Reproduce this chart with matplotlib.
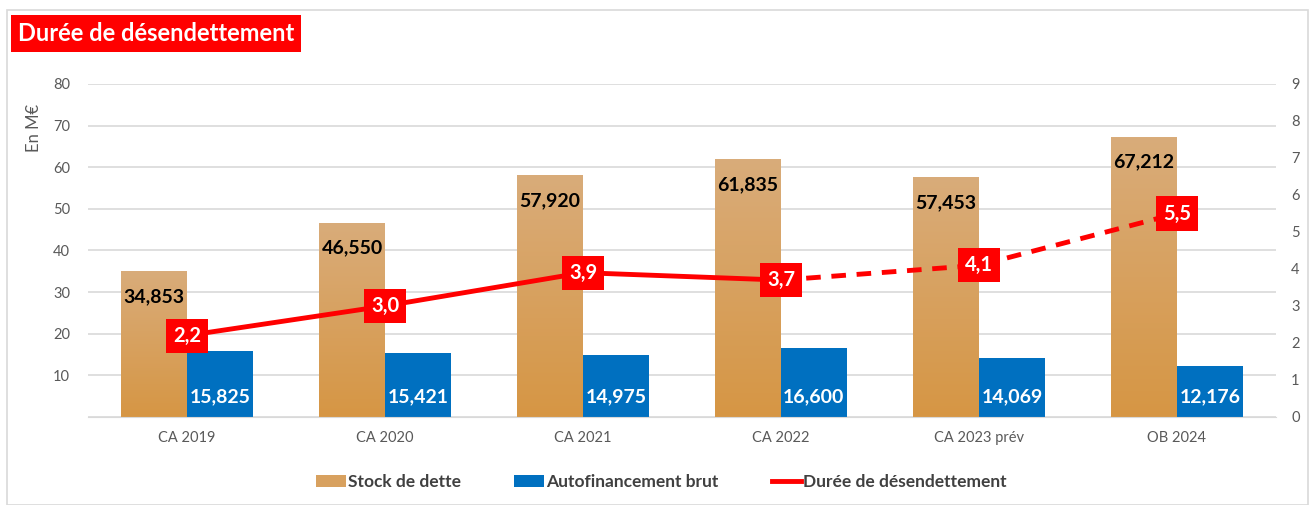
import matplotlib.pyplot as plt
import numpy as np
from matplotlib.patches import Rectangle
from matplotlib.lines import Line2D

plt.rcParams['font.family'] = ['Lato', 'DejaVu Sans']

# Données
categories = ['CA 2019', 'CA 2020', 'CA 2021', 'CA 2022', 'CA 2023 prév', 'OB 2024']
stock_dette = [34.853, 46.550, 57.920, 61.835, 57.453, 67.212]
autofinancement = [15.825, 15.421, 14.975, 16.600, 14.069, 12.176]
duree = [2.2, 3.0, 3.9, 3.7, 4.1, 5.5]
stock_labels = ['34,853', '46,550', '57,920', '61,835', '57,453', '67,212']
auto_labels = ['15,825', '15,421', '14,975', '16,600', '14,069', '12,176']
duree_labels = ['2,2', '3,0', '3,9', '3,7', '4,1', '5,5']

gris = '#595959'
orange_haut = np.array([217, 172, 122]) / 255
orange_bas = np.array([214, 150, 68]) / 255
bleu = '#0070C0'
rouge = '#FF0000'

fig = plt.figure(figsize=(13.1, 5.05), dpi=100)
ax = fig.add_axes([0.0672, 0.1743, 0.9068, 0.6594])
ax2 = ax.twinx()

x = np.arange(len(categories))
w = 0.333

# Barres "Stock de dette" avec dégradé
grad = np.linspace(0, 1, 256)[:, None, None]
img = orange_haut * (1 - grad) + orange_bas * grad
for xi, v, lab in zip(x, stock_dette, stock_labels):
    ax.imshow(img, extent=(xi - w, xi, 0, v), aspect='auto', zorder=2, origin='upper')
    ax.text(xi - w / 2, v - 6, lab, ha='center', va='center', fontsize=14,
            fontweight='bold', color='black', zorder=4)

# Barres "Autofinancement brut"
ax.bar(x + w / 2, autofinancement, width=w, color=bleu, zorder=2)
for xi, lab in zip(x, auto_labels):
    ax.text(xi + w / 2, 4.8, lab, ha='center', va='center', fontsize=14,
            fontweight='bold', color='white', zorder=4)

ax.set_xlim(-0.5, len(categories) - 0.5)
ax.set_ylim(0, 80)
ax.set_yticks(range(0, 81, 10))
ax.set_yticklabels([''] + [str(t) for t in range(10, 81, 10)])
ax.grid(axis='y', color='#D9D9D9', lw=1.2, zorder=0)
ax.set_axisbelow(True)
ax.set_xticks(x)
ax.set_xticklabels(categories)
ax.tick_params(axis='both', length=0, colors=gris, labelsize=10.5, pad=10)
ax.tick_params(axis='y', pad=13)
ax.set_ylabel('En M€', color=gris, fontsize=12)
ax.yaxis.set_label_coords(-0.0385, 0.868)
for s in ax.spines.values():
    s.set_visible(False)
ax.spines['bottom'].set_visible(True)
ax.spines['bottom'].set_color('#D9D9D9')

# Durée de désendettement
ax2.plot(x[:4], duree[:4], color=rouge, lw=3.5, zorder=3, solid_capstyle='butt')
ax2.plot(x[3:], duree[3:], color=rouge, lw=3.5, ls=(0, (3, 2.2)), zorder=3)
for xi, v, lab in zip(x, duree, duree_labels):
    ax2.text(xi, v, lab, ha='center', va='center', fontsize=14.5, fontweight='bold',
             color='white', zorder=5,
             bbox=dict(boxstyle='square,pad=0.35', facecolor=rouge, edgecolor='none'))
ax2.set_ylim(0, 9)
ax2.set_yticks(range(0, 10))
ax2.tick_params(axis='y', length=0, colors=gris, labelsize=10.5, pad=11)
for s in ax2.spines.values():
    s.set_visible(False)

# Légende
handles = [Rectangle((0, 0), 1, 1, facecolor=(orange_haut + orange_bas) / 2),
           Rectangle((0, 0), 1, 1, facecolor=bleu),
           Line2D([0], [0], color=rouge, lw=3.5)]
leg = fig.legend(handles, ['Stock de dette', 'Autofinancement brut', 'Durée de désendettement'],
                 loc='center', bbox_to_anchor=(0.505, 0.045), ncol=3, frameon=False,
                 handlelength=1.7, handletextpad=0.1, columnspacing=3.1,
                 prop={'size': 12.5, 'weight': 'bold'})
for t in leg.get_texts():
    t.set_color('#404040')

# Titre
fig.text(0.0135, 0.933, 'Durée de désendettement', fontsize=17, fontweight='bold',
         color='white', ha='left', va='center',
         bbox=dict(boxstyle='square,pad=0.3', facecolor=rouge, edgecolor='none'))

# Cadre
fig.add_artist(Rectangle((0.0055, 0.0), 0.993, 0.98, transform=fig.transFigure,
                         facecolor='none', edgecolor='#D9D9D9', lw=1.2))

fig.savefig('out.png', dpi=100)
